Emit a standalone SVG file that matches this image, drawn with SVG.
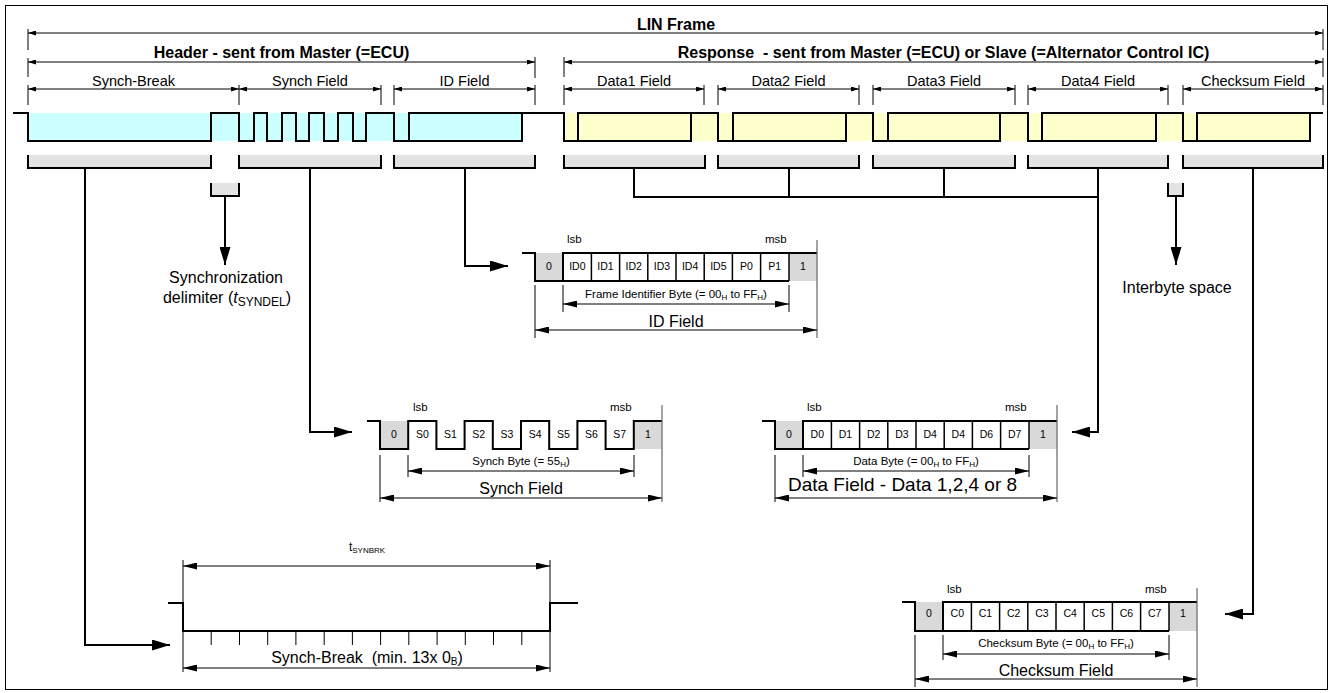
<svg xmlns="http://www.w3.org/2000/svg" width="1332" height="693" viewBox="0 0 1332 693">
<defs>
<style>
text{font-family:"Liberation Sans",Arial,sans-serif;fill:#000}
.b{font-weight:bold;font-size:16px}
.f{font-size:14.5px}
.L{font-size:16px}
.s{font-size:11.5px}
.bit{font-size:10.5px}
.m{text-anchor:middle}
.w{fill:none;stroke:#000;stroke-width:2;stroke-linejoin:miter}
.sep{stroke:#000;stroke-width:1.5}
.d{stroke:#000;stroke-width:1;fill:none}
.tk{stroke:#000;stroke-width:1}
.tg{stroke:#666;stroke-width:1.2}
.c{fill:none;stroke:#000;stroke-width:2}
.gb{fill:#e3e3e3}
.gs{fill:#d9d9d9}
.bl{fill:none;stroke:#000;stroke-width:2}
</style>
<marker id="as" viewBox="0 0 8 5" refX="8" refY="2.5" markerWidth="8" markerHeight="5" markerUnits="userSpaceOnUse" orient="auto-start-reverse"><path d="M0,0L8,2.5L0,5z"/></marker>
<marker id="am" viewBox="0 0 14 7" refX="14" refY="3.5" markerWidth="14" markerHeight="7" markerUnits="userSpaceOnUse" orient="auto-start-reverse"><path d="M0,0L14,3.5L0,7z"/></marker>
<marker id="al" viewBox="0 0 18 11" refX="18" refY="5.5" markerWidth="18" markerHeight="11" markerUnits="userSpaceOnUse" orient="auto-start-reverse"><path d="M0,0L18,5.5L0,11z"/></marker>
</defs>
<rect x="5.5" y="5.5" width="1322" height="684" fill="#fff" stroke="#000" stroke-width="1"/>

<g id="top-dimensions">
<text class="b m" x="676" y="30">LIN Frame</text>
<line class="d" x1="28" y1="33" x2="1323" y2="33" marker-start="url(#as)" marker-end="url(#as)"/>
<text class="b m" x="281.5" y="58">Header - sent from Master (=ECU)</text>
<line class="d" x1="28" y1="62" x2="535" y2="62" marker-start="url(#as)" marker-end="url(#as)"/>
<text class="b m" x="943.5" y="58" xml:space="preserve">Response  - sent from Master (=ECU) or Slave (=Alternator Control IC)</text>
<line class="d" x1="564" y1="62" x2="1323" y2="62" marker-start="url(#as)" marker-end="url(#as)"/>
<g class="tk">
<line x1="28" y1="29" x2="28" y2="50"/><line x1="1323" y1="29" x2="1323" y2="50"/>
<line x1="28" y1="58" x2="28" y2="77"/><line x1="535" y1="57" x2="535" y2="78"/>
<line x1="564" y1="57" x2="564" y2="77"/><line x1="1323" y1="58" x2="1323" y2="77"/>
<line x1="28" y1="85" x2="28" y2="105"/><line x1="239" y1="85" x2="239" y2="105"/>
<line x1="381" y1="85" x2="381" y2="105"/><line x1="394" y1="85" x2="394" y2="105"/>
<line x1="535" y1="85" x2="535" y2="105"/><line x1="564" y1="85" x2="564" y2="105"/>
<line x1="704" y1="85" x2="704" y2="105"/><line x1="718" y1="85" x2="718" y2="105"/>
<line x1="859" y1="85" x2="859" y2="105"/><line x1="873" y1="85" x2="873" y2="105"/>
<line x1="1015" y1="85" x2="1015" y2="105"/><line x1="1028" y1="85" x2="1028" y2="105"/>
<line x1="1168" y1="85" x2="1168" y2="105"/><line x1="1183" y1="85" x2="1183" y2="105"/>
<line x1="1323" y1="85" x2="1323" y2="105"/>
</g>
<g class="d" marker-start="url(#as)" marker-end="url(#as)">
<line x1="28" y1="89" x2="239" y2="89"/>
<line x1="239" y1="89" x2="381" y2="89"/>
<line x1="394" y1="89" x2="535" y2="89"/>
<line x1="564" y1="89" x2="704" y2="89"/>
<line x1="718" y1="89" x2="859" y2="89"/>
<line x1="873" y1="89" x2="1015" y2="89"/>
<line x1="1028" y1="89" x2="1168" y2="89"/>
<line x1="1183" y1="89" x2="1323" y2="89"/>
</g>
<text class="f m" x="133.5" y="86">Synch-Break</text>
<text class="f m" x="310" y="86">Synch Field</text>
<text class="f m" x="464.5" y="86">ID Field</text>
<text class="f m" x="634" y="86">Data1 Field</text>
<text class="f m" x="788.5" y="86">Data2 Field</text>
<text class="f m" x="944" y="86">Data3 Field</text>
<text class="f m" x="1098" y="86">Data4 Field</text>
<text class="f m" x="1253" y="86">Checksum Field</text>
</g>

<g id="frame-waveform">
<rect x="28" y="113" width="494" height="28" fill="#ccffff"/>
<rect x="564" y="113" width="746" height="28" fill="#ffffcc"/>
<path class="w" d="M13,113H28V141H211V113H239V141H254V113H267V141H282V113H296V141H309V113H324V141H338V113H353V141H366V113H394V141H522V113"/>
<path class="w" d="M409,141V113H564V141H691V113H718V141H846V113H873V141H1000V113H1028V141H1156V113H1183V141H1310V113"/>
<path class="w" d="M578,141V113H691M733,141V113H846M888,141V113H1000M1042,141V113H1156M1197,141V113H1323"/>
</g>

<g id="brackets">
<rect class="gb" x="28" y="155" width="183" height="13"/>
<rect class="gb" x="239" y="155" width="142" height="13"/>
<rect class="gb" x="394" y="155" width="141" height="13"/>
<rect class="gb" x="564" y="155" width="141" height="13"/>
<rect class="gb" x="718" y="155" width="141" height="13"/>
<rect class="gb" x="873" y="155" width="142" height="13"/>
<rect class="gb" x="1028" y="155" width="140" height="13"/>
<rect class="gb" x="1183" y="155" width="140" height="13"/>
<rect class="gb" x="211" y="183" width="28" height="13"/>
<rect class="gb" x="1168" y="183" width="15" height="13"/>
<path class="bl" d="M28,155V168H211V155M239,155V168H381V155M394,155V168H535V155M564,155V168H705V155M718,155V168H859V155M873,155V168H1015V155M1028,155V168H1168V155M1183,155V168H1323V155M211,183V196H239V183M1168,183V196H1183V183"/>
</g>

<g id="connectors">
<path class="c" d="M85,168V645H170" marker-end="url(#al)"/>
<path class="c" d="M225,196V265" marker-end="url(#al)"/>
<path class="c" d="M310,168V432H352" marker-end="url(#al)"/>
<path class="c" d="M465,168V266H508" marker-end="url(#al)"/>
<path class="c" d="M634,168V197H1098M789,168V197M944,168V197"/>
<path class="c" d="M1098,168V432H1072" marker-end="url(#al)"/>
<path class="c" d="M1253,168V614H1225" marker-end="url(#al)"/>
<path class="c" d="M1176,196V265" marker-end="url(#al)"/>
</g>

<g id="node-sync-delimiter">
<text class="L m" x="226" y="283">Synchronization</text>
<text class="L m" x="227" y="303">delimiter (<tspan font-style="italic">t</tspan><tspan font-size="12" dy="3">SYNDEL</tspan><tspan dy="-3">)</tspan></text>
</g>

<g id="node-interbyte">
<text class="L m" x="1177" y="293">Interbyte space</text>
</g>

<g id="node-id-field">
<rect class="gs" x="535" y="253" width="28" height="28"/>
<rect class="gs" x="789" y="253" width="28" height="28"/>
<path class="w" d="M522,253H535V281H789M563,281V253H817"/>
<g class="sep"><line x1="591.4" y1="253" x2="591.4" y2="281"/><line x1="619.6" y1="253" x2="619.6" y2="281"/><line x1="647.8" y1="253" x2="647.8" y2="281"/><line x1="676" y1="253" x2="676" y2="281"/><line x1="704.2" y1="253" x2="704.2" y2="281"/><line x1="732.4" y1="253" x2="732.4" y2="281"/><line x1="760.6" y1="253" x2="760.6" y2="281"/><line x1="789" y1="253" x2="789" y2="281"/></g>
<line class="tg" x1="817" y1="240" x2="817" y2="338"/>
<line class="tk" x1="535" y1="285" x2="535" y2="338"/>
<line class="tk" x1="563" y1="285" x2="563" y2="312"/>
<line class="tk" x1="789" y1="285" x2="789" y2="312"/>
<text class="s" x="567" y="243">lsb</text><text class="s" x="765" y="243">msb</text>
<g class="bit m"><text x="549" y="270">0</text><text x="577.3" y="270">ID0</text><text x="605.5" y="270">ID1</text><text x="633.7" y="270">ID2</text><text x="661.9" y="270">ID3</text><text x="690.1" y="270">ID4</text><text x="718.3" y="270">ID5</text><text x="746.5" y="270">P0</text><text x="774.7" y="270">P1</text><text x="803" y="270">1</text></g>
<text class="s m" x="676" y="298">Frame Identifier Byte (= 00<tspan font-size="8" dy="2">H</tspan><tspan dy="-2"> to FF</tspan><tspan font-size="8" dy="2">H</tspan><tspan dy="-2">)</tspan></text>
<line class="d" x1="563" y1="304" x2="789" y2="304" marker-start="url(#am)" marker-end="url(#am)"/>
<text class="L m" x="676" y="327">ID Field</text>
<line class="d" x1="535" y1="330" x2="817" y2="330" marker-start="url(#am)" marker-end="url(#am)"/>
</g>

<g id="node-synch-field">
<rect class="gs" x="380" y="421" width="28" height="28"/>
<rect class="gs" x="634" y="421" width="28" height="28"/>
<path class="w" d="M367,421H380V449H408.2V421H436.4V449H464.6V421H492.8V449H521V421H549.2V449H577.4V421H605.6V449H633.8V421H662"/>
<line class="tg" x1="662" y1="405" x2="662" y2="502"/>
<line class="tk" x1="380" y1="455" x2="380" y2="502"/>
<line class="tk" x1="408" y1="455" x2="408" y2="477"/>
<line class="tk" x1="634" y1="455" x2="634" y2="477"/>
<text class="s" x="413" y="411">lsb</text><text class="s" x="610" y="411">msb</text>
<g class="bit m"><text x="394" y="438">0</text><text x="422.3" y="438">S0</text><text x="450.5" y="438">S1</text><text x="478.7" y="438">S2</text><text x="506.9" y="438">S3</text><text x="535.1" y="438">S4</text><text x="563.3" y="438">S5</text><text x="591.5" y="438">S6</text><text x="619.7" y="438">S7</text><text x="648" y="438">1</text></g>
<text class="s m" x="521" y="465">Synch Byte (= 55<tspan font-size="8" dy="2">H</tspan><tspan dy="-2">)</tspan></text>
<line class="d" x1="408" y1="471" x2="634" y2="471" marker-start="url(#am)" marker-end="url(#am)"/>
<text class="L m" x="521" y="494">Synch Field</text>
<line class="d" x1="380" y1="498" x2="662" y2="498" marker-start="url(#am)" marker-end="url(#am)"/>
</g>

<g id="node-data-field">
<rect class="gs" x="775" y="421" width="28" height="28"/>
<rect class="gs" x="1029" y="421" width="28" height="28"/>
<path class="w" d="M762,421H775V449H1029M803,449V421H1057"/>
<g class="sep"><line x1="831.4" y1="421" x2="831.4" y2="449"/><line x1="859.6" y1="421" x2="859.6" y2="449"/><line x1="887.8" y1="421" x2="887.8" y2="449"/><line x1="916" y1="421" x2="916" y2="449"/><line x1="944.2" y1="421" x2="944.2" y2="449"/><line x1="972.4" y1="421" x2="972.4" y2="449"/><line x1="1000.6" y1="421" x2="1000.6" y2="449"/><line x1="1029" y1="421" x2="1029" y2="449"/></g>
<line class="tg" x1="1057" y1="405" x2="1057" y2="502"/>
<line class="tk" x1="775" y1="455" x2="775" y2="502"/>
<line class="tk" x1="803" y1="455" x2="803" y2="477"/>
<line class="tk" x1="1029" y1="455" x2="1029" y2="477"/>
<text class="s" x="807" y="411">lsb</text><text class="s" x="1005" y="411">msb</text>
<g class="bit m"><text x="789" y="438">0</text><text x="817.3" y="438">D0</text><text x="845.5" y="438">D1</text><text x="873.7" y="438">D2</text><text x="901.9" y="438">D3</text><text x="930.1" y="438">D4</text><text x="958.3" y="438">D4</text><text x="986.5" y="438">D6</text><text x="1014.7" y="438">D7</text><text x="1043" y="438">1</text></g>
<text class="s m" x="916" y="465">Data Byte (= 00<tspan font-size="8" dy="2">H</tspan><tspan dy="-2"> to FF</tspan><tspan font-size="8" dy="2">H</tspan><tspan dy="-2">)</tspan></text>
<line class="d" x1="803" y1="471" x2="1029" y2="471" marker-start="url(#am)" marker-end="url(#am)"/>
<text class="m" x="902.5" y="491" font-size="19">Data Field - Data 1,2,4 or 8</text>
<line class="d" x1="775" y1="498" x2="1057" y2="498" marker-start="url(#am)" marker-end="url(#am)"/>
</g>

<g id="node-checksum-field">
<rect class="gs" x="915" y="602" width="28" height="29"/>
<rect class="gs" x="1169" y="602" width="28" height="29"/>
<path class="w" d="M902,602H915V631H1169M943,631V602H1197"/>
<g class="sep"><line x1="971.4" y1="602" x2="971.4" y2="631"/><line x1="999.6" y1="602" x2="999.6" y2="631"/><line x1="1027.8" y1="602" x2="1027.8" y2="631"/><line x1="1056" y1="602" x2="1056" y2="631"/><line x1="1084.2" y1="602" x2="1084.2" y2="631"/><line x1="1112.4" y1="602" x2="1112.4" y2="631"/><line x1="1140.6" y1="602" x2="1140.6" y2="631"/><line x1="1169" y1="602" x2="1169" y2="631"/></g>
<line class="tg" x1="1197" y1="588" x2="1197" y2="687"/>
<line class="tk" x1="915" y1="635" x2="915" y2="687"/>
<line class="tk" x1="943" y1="635" x2="943" y2="660"/>
<line class="tk" x1="1169" y1="635" x2="1169" y2="660"/>
<text class="s" x="947" y="593">lsb</text><text class="s" x="1145" y="593">msb</text>
<g class="bit m"><text x="929" y="617">0</text><text x="957.3" y="617">C0</text><text x="985.5" y="617">C1</text><text x="1013.7" y="617">C2</text><text x="1041.9" y="617">C3</text><text x="1070.1" y="617">C4</text><text x="1098.3" y="617">C5</text><text x="1126.5" y="617">C6</text><text x="1154.7" y="617">C7</text><text x="1183" y="617">1</text></g>
<text class="s m" x="1056" y="647">Checksum Byte (= 00<tspan font-size="8" dy="2">H</tspan><tspan dy="-2"> to FF</tspan><tspan font-size="8" dy="2">H</tspan><tspan dy="-2">)</tspan></text>
<line class="d" x1="943" y1="654" x2="1169" y2="654" marker-start="url(#am)" marker-end="url(#am)"/>
<text class="L m" x="1056" y="676">Checksum Field</text>
<line class="d" x1="915" y1="679" x2="1197" y2="679" marker-start="url(#am)" marker-end="url(#am)"/>
</g>

<g id="node-synch-break">
<text class="m" x="367" y="551" font-size="12">t<tspan font-size="8" dy="2">SYNBRK</tspan></text>
<line class="tk" x1="183" y1="560" x2="183" y2="672"/>
<line class="tk" x1="550" y1="560" x2="550" y2="672"/>
<line class="d" x1="183" y1="566" x2="550" y2="566" marker-start="url(#am)" marker-end="url(#am)"/>
<path class="w" d="M168,603H183V631H550V603H578"/>
<g class="tk"><line x1="211.2" y1="631" x2="211.2" y2="645"/><line x1="239.5" y1="631" x2="239.5" y2="645"/><line x1="267.7" y1="631" x2="267.7" y2="645"/><line x1="295.9" y1="631" x2="295.9" y2="645"/><line x1="324.2" y1="631" x2="324.2" y2="645"/><line x1="352.4" y1="631" x2="352.4" y2="645"/><line x1="380.6" y1="631" x2="380.6" y2="645"/><line x1="408.8" y1="631" x2="408.8" y2="645"/><line x1="437.1" y1="631" x2="437.1" y2="645"/><line x1="465.3" y1="631" x2="465.3" y2="645"/><line x1="493.5" y1="631" x2="493.5" y2="645"/><line x1="521.8" y1="631" x2="521.8" y2="645"/></g>
<text class="L m" x="367" y="663" xml:space="preserve">Synch-Break  (min. 13x 0<tspan font-size="10" dy="2">B</tspan><tspan dy="-2">)</tspan></text>
<line class="d" x1="183" y1="668" x2="550" y2="668" marker-start="url(#am)" marker-end="url(#am)"/>
</g>
</svg>
